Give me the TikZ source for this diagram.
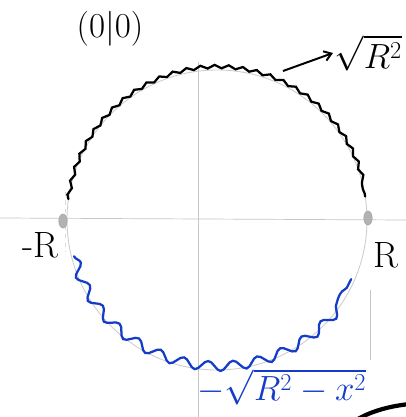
\documentclass[tikz,border=0pt]{standalone}
\usepackage{amsmath,amssymb}
\usepackage{tikz}
\usetikzlibrary{arrows.meta,shapes.geometric,positioning,calc,decorations.pathmorphing}

\definecolor{penblue}{RGB}{20,60,200}

\begin{document}
\begin{tikzpicture}[
    x=0.025cm, y=0.025cm,
    axis/.style={gray!45, line width=0.5pt},
    guide/.style={gray!30, line width=0.6pt, dashed},
    upper/.style={black, line width=1.6pt, line cap=round, decorate,
        decoration={snake, amplitude=1.2, segment length=10}},
    lower/.style={penblue, line width=1.6pt, line cap=round, decorate,
        decoration={snake, amplitude=3.4, segment length=18}},
    lbl/.style={font=\fontsize{26}{28}\selectfont, inner sep=1pt},
    dot/.style={fill=gray!60, draw=gray!70, ellipse, inner sep=0pt, minimum width=6, minimum height=10}
]
\useasboundingbox (0,0) rectangle (406,417);
\clip (0,0) rectangle (406,417);
\fill[white] (0,0) rectangle (406,417);

% axes and guides
\draw[axis] (0,199) -- (406,197);
\draw[axis] (198,355) -- (198,0);
\draw[guide] (65,225) -- (65,165);
\draw[axis] (370,127) -- (370,57);

% thin circle
\coordinate (O) at (217,197);
\draw[gray!40, line width=0.6pt] (O) circle (150);

% end points
\node[dot] (left) at (63,196) {};
\node[dot] (right) at (368,199) {};

% upper half (black) and lower half (blue)
\draw[upper] ($(O)+(172:150)$) arc[start angle=172, end angle=9, radius=150];
\draw[lower] ($(O)+(195:148 and 140)$) arc[start angle=195, end angle=335, x radius=148, y radius=140];

% labels
\node[lbl] (mR) at (40,172) {-R};
\node[lbl] (pR) at (386,162) {R};
\node[lbl, text=penblue] (neg) at (282,30) {$-\sqrt{R^2-x^2}$};
\node[lbl, anchor=west] (pos) at (333,364) {$\sqrt{R^2}$};
\node[lbl] (orig) at (110,388) {$(0|0)$};
\coordinate (tip) at (283,346);
\draw[-{Straight Barb[length=5pt,width=7pt]}, line width=1.4pt] (tip) -- (pos.west);

% stroke at the corner
\draw[line width=3pt, line cap=round] (358,-2) .. controls (372,6) and (390,11) .. (410,13);
\end{tikzpicture}
\end{document}
